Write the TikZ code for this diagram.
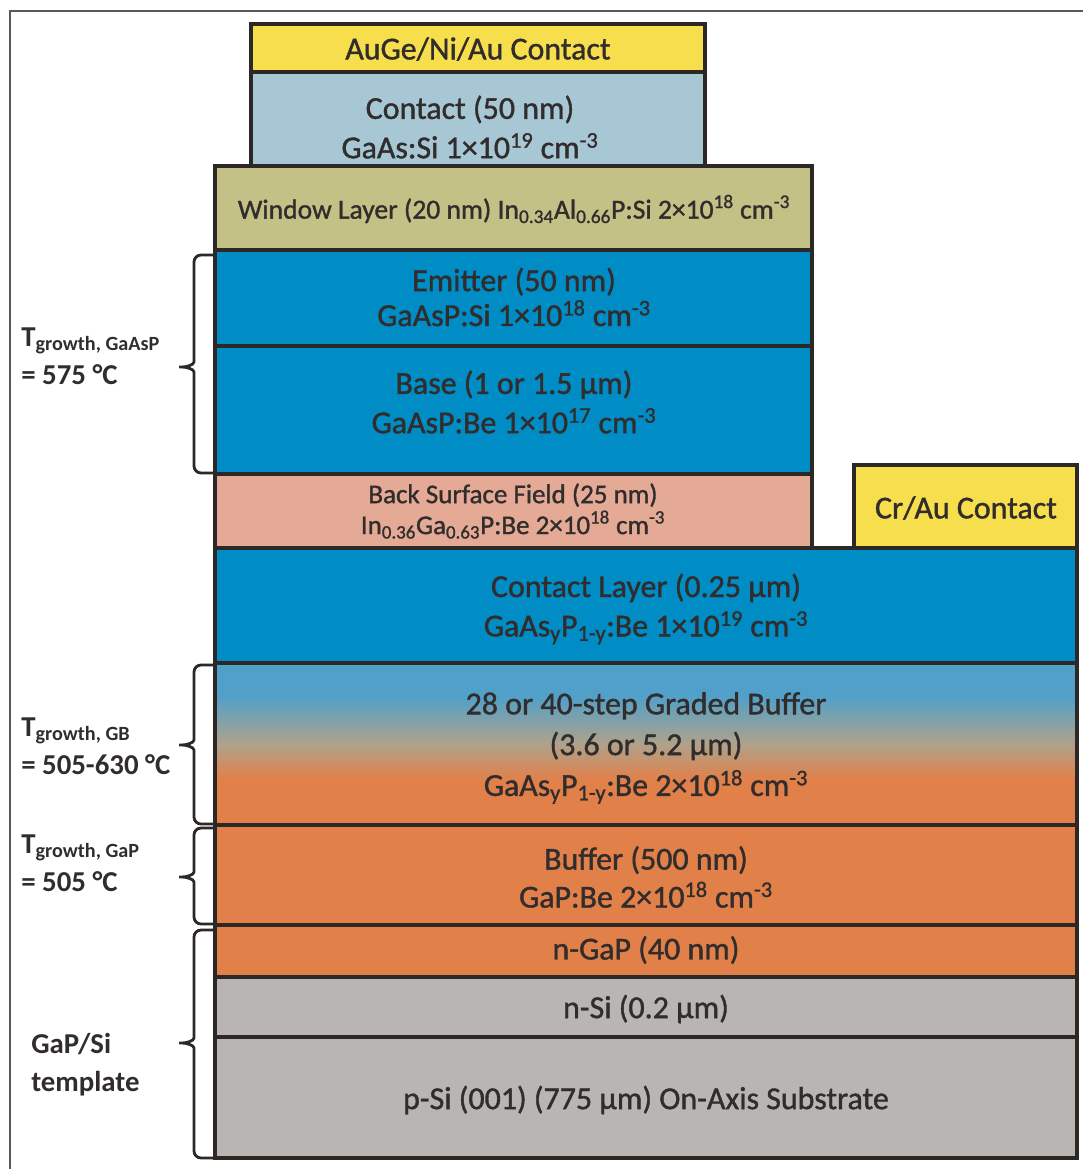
\documentclass[tikz,border=0pt]{standalone}
\usepackage{fontspec}
\setmainfont{Carlito}
\newfontfamily\layerfont{Carlito}[FakeBold=1.2]

\definecolor{auyellow}{RGB}{247,222,77}
\definecolor{gaasblue}{RGB}{167,199,212}
\definecolor{winkhaki}{RGB}{196,193,134}
\definecolor{gaaspblue}{RGB}{0,140,196}
\definecolor{bsfpink}{RGB}{228,170,150}
\definecolor{gaporange}{RGB}{226,128,74}
\definecolor{sigray}{RGB}{185,181,178}
\definecolor{edge}{RGB}{45,40,38}
\definecolor{ink}{RGB}{50,45,45}
\definecolor{gbtop}{RGB}{80,160,202}
\definecolor{gbmid}{RGB}{175,162,138}

\pgfdeclareverticalshading{gradbuf}{100bp}{color(0bp)=(gaporange); color(39bp)=(gaporange); color(50bp)=(gbmid); color(65bp)=(gbtop); color(100bp)=(gbtop)}

\tikzset{
  layer/.style={draw=edge, line width=2.2pt},
  lbl/.style={text=ink, align=center, inner sep=0pt, font=\layerfont\fontsize{22.7}{28}\selectfont},
  smalllbl/.style={lbl, font=\layerfont\fontsize{19.2}{22}\selectfont},
  templbl/.style={text=ink, align=left, inner sep=0pt, anchor=west, font=\bfseries\fontsize{20.5}{27}\selectfont},
  brace/.style={draw=edge, line width=2pt, rounded corners=5pt}
}

\begin{document}
\begin{tikzpicture}[x=0.025cm,y=-0.025cm]
\useasboundingbox (0,0) rectangle (1083,1169);
% frame
\draw[gray!70!black, line width=1pt] (10,1169) -- (10,11) -- (1083,11);

% top stack
\draw[layer, fill=auyellow] (251,24) rectangle (705,72);
\node[lbl] (augecontact) at (478,49) {AuGe/Ni/Au Contact};
\draw[layer, fill=gaasblue] (251,72) rectangle (705,166);
\node[lbl] (gaascontact) at (470,127) {Contact (50 nm)\\GaAs:Si 1×10\textsuperscript{19} cm\textsuperscript{-3}};
\draw[layer, fill=winkhaki] (215,166) rectangle (812,250);
\node[lbl, font=\layerfont\fontsize{19.6}{22}\selectfont] (window) at (514,209) {Window Layer (20 nm) In\textsubscript{0.34}Al\textsubscript{0.66}P:Si 2×10\textsuperscript{18} cm\textsuperscript{-3}};
\draw[layer, fill=gaaspblue] (215,250) rectangle (812,346);
\node[lbl, font=\layerfont\fontsize{22.7}{24.8}\selectfont] (emitter) at (514,297) {Emitter (50 nm)\\GaAsP:Si 1×10\textsuperscript{18} cm\textsuperscript{-3}};
\draw[layer, fill=gaaspblue] (215,346) rectangle (812,474);
\node[lbl] (base) at (514,402) {Base (1 or 1.5 µm)\\GaAsP:Be 1×10\textsuperscript{17} cm\textsuperscript{-3}};
\draw[layer, fill=bsfpink] (215,474) rectangle (812,548);
\node[smalllbl] (bsf) at (513,511) {Back Surface Field (25 nm)\\In\textsubscript{0.36}Ga\textsubscript{0.63}P:Be 2×10\textsuperscript{18} cm\textsuperscript{-3}};
\draw[layer, fill=auyellow] (854,465) rectangle (1077,548);
\node[lbl] (cracontact) at (966,508) {Cr/Au Contact};

% lower stack
\draw[layer, fill=gaaspblue] (215,548) rectangle (1077,663);
\node[lbl] (contactlayer) at (646,609) {Contact Layer (0.25 µm)\\GaAs\textsubscript{y}P\textsubscript{1-y}:Be 1×10\textsuperscript{19} cm\textsuperscript{-3}};
\shade[shading=gradbuf] (215,663) rectangle (1077,825);
\draw[layer] (215,663) rectangle (1077,825);
\node[lbl, font=\layerfont\fontsize{22.7}{29}\selectfont] (gradedbuffer) at (646,748) {28 or 40-step Graded Buffer\\(3.6 or 5.2 µm)\\GaAs\textsubscript{y}P\textsubscript{1-y}:Be 2×10\textsuperscript{18} cm\textsuperscript{-3}};
\draw[layer, fill=gaporange] (215,825) rectangle (1077,925);
\node[lbl, font=\layerfont\fontsize{22.7}{27}\selectfont] (buffer) at (646,877) {Buffer (500 nm)\\GaP:Be 2×10\textsuperscript{18} cm\textsuperscript{-3}};
\draw[layer, fill=gaporange] (215,925) rectangle (1077,977);
\node[lbl] (ngap) at (646,950) {n-GaP (40 nm)};
\draw[layer, fill=sigray] (215,977) rectangle (1077,1037);
\node[lbl] (nsi) at (646,1009) {n-Si (0.2 µm)};
\draw[layer, fill=sigray] (215,1037) rectangle (1077,1158);
\node[lbl] (psi) at (646,1100) {p-Si (001) (775 µm) On-Axis Substrate};

% growth braces
\draw[brace] (215,255) -- (194,255) -- (194,355) .. controls (194,365) and (186,367) .. (175,367) .. controls (186,367) and (194,369) .. (194,379) -- (194,473) -- (215,473);
\draw[brace] (215,665) -- (194,665) -- (194,733) .. controls (194,743) and (186,745) .. (175,745) .. controls (186,745) and (194,747) .. (194,757) -- (194,824) -- (215,824);
\draw[brace] (215,828) -- (194,828) -- (194,865) .. controls (194,875) and (186,877) .. (175,877) .. controls (186,877) and (194,879) .. (194,889) -- (194,924) -- (215,924);
\draw[brace] (215,930) -- (194,930) -- (194,1031) .. controls (194,1041) and (186,1043) .. (175,1043) .. controls (186,1043) and (194,1045) .. (194,1055) -- (194,1158) -- (215,1158);

\node[templbl] (tgaasp) at (21,356) {T\textsubscript{growth, GaAsP}\\= 575 °C};
\node[templbl] (tgb) at (21,746) {T\textsubscript{growth, GB}\\= 505-630 °C};
\node[templbl] (tgap) at (21,863) {T\textsubscript{growth, GaP}\\= 505 °C};
\node[templbl] (template) at (31,1065) {GaP/Si\\template};
\end{tikzpicture}
\end{document}
